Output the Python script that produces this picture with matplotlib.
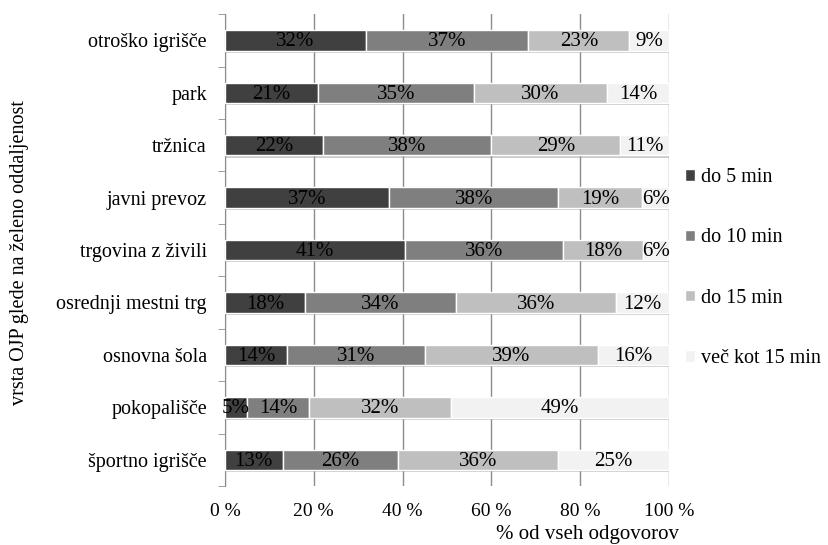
import numpy as np
import matplotlib
matplotlib.use("Agg")
import matplotlib.pyplot as plt
import matplotlib.patheffects as pe
from matplotlib.patches import Patch

plt.rcParams["font.family"] = ["Liberation Serif", "DejaVu Serif"]

# Data (percent of all answers, as printed on the bars)
categories = [
    "otroško igrišče", "park", "tržnica", "javni prevoz", "trgovina z živili",
    "osrednji mestni trg", "osnovna šola", "pokopališče", "športno igrišče",
]
do_5 = [32, 21, 22, 37, 41, 18, 14, 5, 13]
do_10 = [37, 35, 38, 38, 36, 34, 31, 14, 26]
do_15 = [23, 30, 29, 19, 18, 36, 39, 32, 36]
nad_15 = [9, 14, 11, 6, 6, 12, 16, 49, 25]

series_names = ["do 5 min", "do 10 min", "do 15 min", "več kot 15 min"]
colors = ["#404040", "#7f7f7f", "#bfbfbf", "#f2f2f2"]
xticks = [0, 20, 40, 60, 80, 100]

data = np.array([do_5, do_10, do_15, nad_15], dtype=float)
# 100 % stacked: each row scaled to its own total
shares = data / data.sum(axis=0) * 100

fig = plt.figure(figsize=(8.29, 5.45), dpi=100)
ax = fig.add_axes([0.2714, 0.1083, 0.5356, 0.8657])

y = np.arange(len(categories))
left = np.zeros(len(categories))
shadow = [pe.SimplePatchShadow(offset=(1, -1.5), shadow_rgbFace="#999999", alpha=0.5), pe.Normal()]
for vals, shr, col in zip(data, shares, colors):
    bars = ax.barh(y, shr, left=left, height=0.39, color=col,
                   edgecolor="white", linewidth=1, zorder=3)
    for b in bars:
        b.set_path_effects(shadow)
    for yi, l, w, v in zip(y, left, shr, vals):
        ax.text(l + w / 2, yi + 0.03, f"{v:.0f}%", ha="center", va="center",
                fontsize=15, color="black", zorder=4)
    left += shr

ax.set_xlim(0, 100)
ax.set_ylim(len(categories) - 0.5, -0.5)

ax.set_xticks(xticks)
ax.set_xticklabels([f"{t} %" for t in xticks], fontsize=14)
ax.tick_params(axis="x", length=0, pad=12)
ax.xaxis.grid(True, color="#8c8c8c", linewidth=1)
ax.set_axisbelow(True)

ax.set_yticks(y)
ax.set_yticklabels(categories, fontsize=14.5)
ax.set_yticks(np.arange(len(categories) + 1) - 0.5, minor=True)
ax.tick_params(axis="y", which="major", length=0, pad=13)
ax.tick_params(axis="y", which="minor", length=5, color="#8c8c8c")

for s in ["top", "right", "bottom"]:
    ax.spines[s].set_visible(False)
ax.spines["left"].set_color("#8c8c8c")

fig.text(0.709, 0.02, "% od vseh odgovorov", ha="center", va="center", fontsize=15)
fig.text(0.024, 0.536, "vrsta OJP glede na želeno oddaljenost", rotation=90,
         ha="center", va="center", fontsize=14.5)

handles = [Patch(facecolor=c, edgecolor="white") for c in colors]
fig.legend(handles, series_names, loc="center left", bbox_to_anchor=(0.826, 0.508),
           frameon=False, fontsize=14.5, handlelength=0.5, handleheight=0.5,
           handletextpad=0.3, labelspacing=2.05, borderaxespad=0, borderpad=0)

fig.savefig("out.png", dpi=100)
